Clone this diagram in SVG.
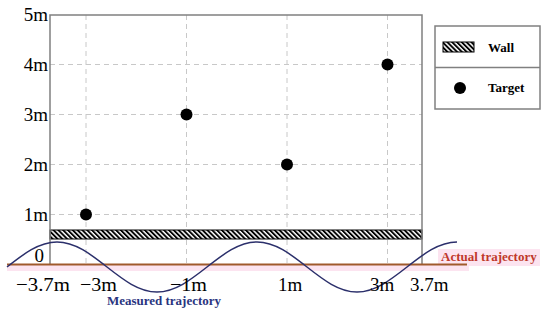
<svg xmlns="http://www.w3.org/2000/svg" width="550" height="314" viewBox="0 0 550 314">
<defs>
<pattern id="hatch" patternUnits="userSpaceOnUse" width="3.4" height="10" patternTransform="rotate(-45)">
<rect x="0" y="0" width="3.4" height="10" fill="#fff"/>
<rect x="0" y="0" width="1.9" height="10" fill="#000"/>
</pattern>
<style>
.grid{stroke:#c8c8c8;stroke-width:1;stroke-dasharray:5 4;fill:none}
.frame{stroke:#808080;stroke-width:1.5;fill:none}
.tick{font-family:"Liberation Serif","Times New Roman",serif;font-size:19px;fill:#000}
.dot{fill:#000}
.leg{font-family:"Liberation Serif","Times New Roman",serif;font-size:13px;font-weight:bold;fill:#000}
.lab{font-family:"Liberation Serif","Times New Roman",serif;font-size:13px;font-weight:bold}
</style>
</defs>
<rect width="550" height="314" fill="#fff"/>
<rect x="7" y="265" width="462" height="6" fill="#fce4f0"/>
<rect x="438" y="249" width="102" height="17" fill="#fce4f0"/>
<g id="grid">
<line class="grid" x1="50" y1="214.5" x2="422" y2="214.5"/>
<line class="grid" x1="50" y1="164.5" x2="422" y2="164.5"/>
<line class="grid" x1="50" y1="114.5" x2="422" y2="114.5"/>
<line class="grid" x1="50" y1="64.5" x2="422" y2="64.5"/>
<line class="grid" x1="86" y1="15" x2="86" y2="264"/>
<line class="grid" x1="186.5" y1="15" x2="186.5" y2="264"/>
<line class="grid" x1="287" y1="15" x2="287" y2="264"/>
<line class="grid" x1="387.5" y1="15" x2="387.5" y2="264"/>
</g>
<g id="wall">
<rect x="50" y="230" width="372" height="9" fill="url(#hatch)" stroke="#000" stroke-width="1"/>
</g>
<g id="frame">
<polyline class="frame" points="50,264.5 50,15 422,15 422,264.5"/>
</g>
<g id="connectors">
<line id="actual-trajectory" x1="7" y1="264.5" x2="467" y2="264.5" stroke="#a05a2c" stroke-width="2"/>
<path id="measured-trajectory" d="M7,267 C23.3,254.2 38.9,242 57,242 S90.7,254.2 107,267 S138.9,292 157,292 S190.7,279.8 207,267 S238.9,242 257,242 S290.7,254.2 307,267 S338.9,292 357,292 S390.7,279.8 407,267 S438.9,242 457,242" fill="none" stroke="#2b2f6b" stroke-width="1.5"/>
</g>
<g id="targets">
<circle class="dot" cx="86" cy="214.5" r="6"/>
<circle class="dot" cx="186.5" cy="114.5" r="6"/>
<circle class="dot" cx="287" cy="164.5" r="6"/>
<circle class="dot" cx="387.5" cy="64.5" r="6"/>
</g>
<g id="y-labels" class="tick" text-anchor="end">
<text x="48" y="21">5m</text>
<text x="48" y="71">4m</text>
<text x="48" y="121">3m</text>
<text x="48" y="171">2m</text>
<text x="48" y="221">1m</text>
<text x="44" y="262">0</text>
</g>
<g id="x-labels" class="tick">
<text x="16" y="291" textLength="54" lengthAdjust="spacingAndGlyphs">−3.7m</text>
<text x="80" y="291" textLength="37" lengthAdjust="spacingAndGlyphs">−3m</text>
<text x="170" y="291" textLength="37" lengthAdjust="spacingAndGlyphs">−1m</text>
<text x="278" y="291">1m</text>
<text x="370" y="291">3m</text>
<text x="410" y="291">3.7m</text>
</g>
<g id="label-actual"><text class="lab" x="441" y="261" fill="#c0392b">Actual trajectory</text></g>
<g id="label-measured"><text class="lab" x="164" y="305" text-anchor="middle" fill="#2a3580">Measured trajectory</text></g>
<g id="legend">
<rect x="435" y="26" width="105" height="83" fill="#fff" class="frame"/>
<line class="frame" x1="435" y1="67.5" x2="540" y2="67.5"/>
<g id="legend-wall">
<rect x="443" y="42" width="31" height="10" fill="url(#hatch)" stroke="#000" stroke-width="1"/>
<text class="leg" x="488" y="52">Wall</text>
</g>
<g id="legend-target">
<circle class="dot" cx="460" cy="88" r="6"/>
<text class="leg" x="488" y="92">Target</text>
</g>
</g>
</svg>
